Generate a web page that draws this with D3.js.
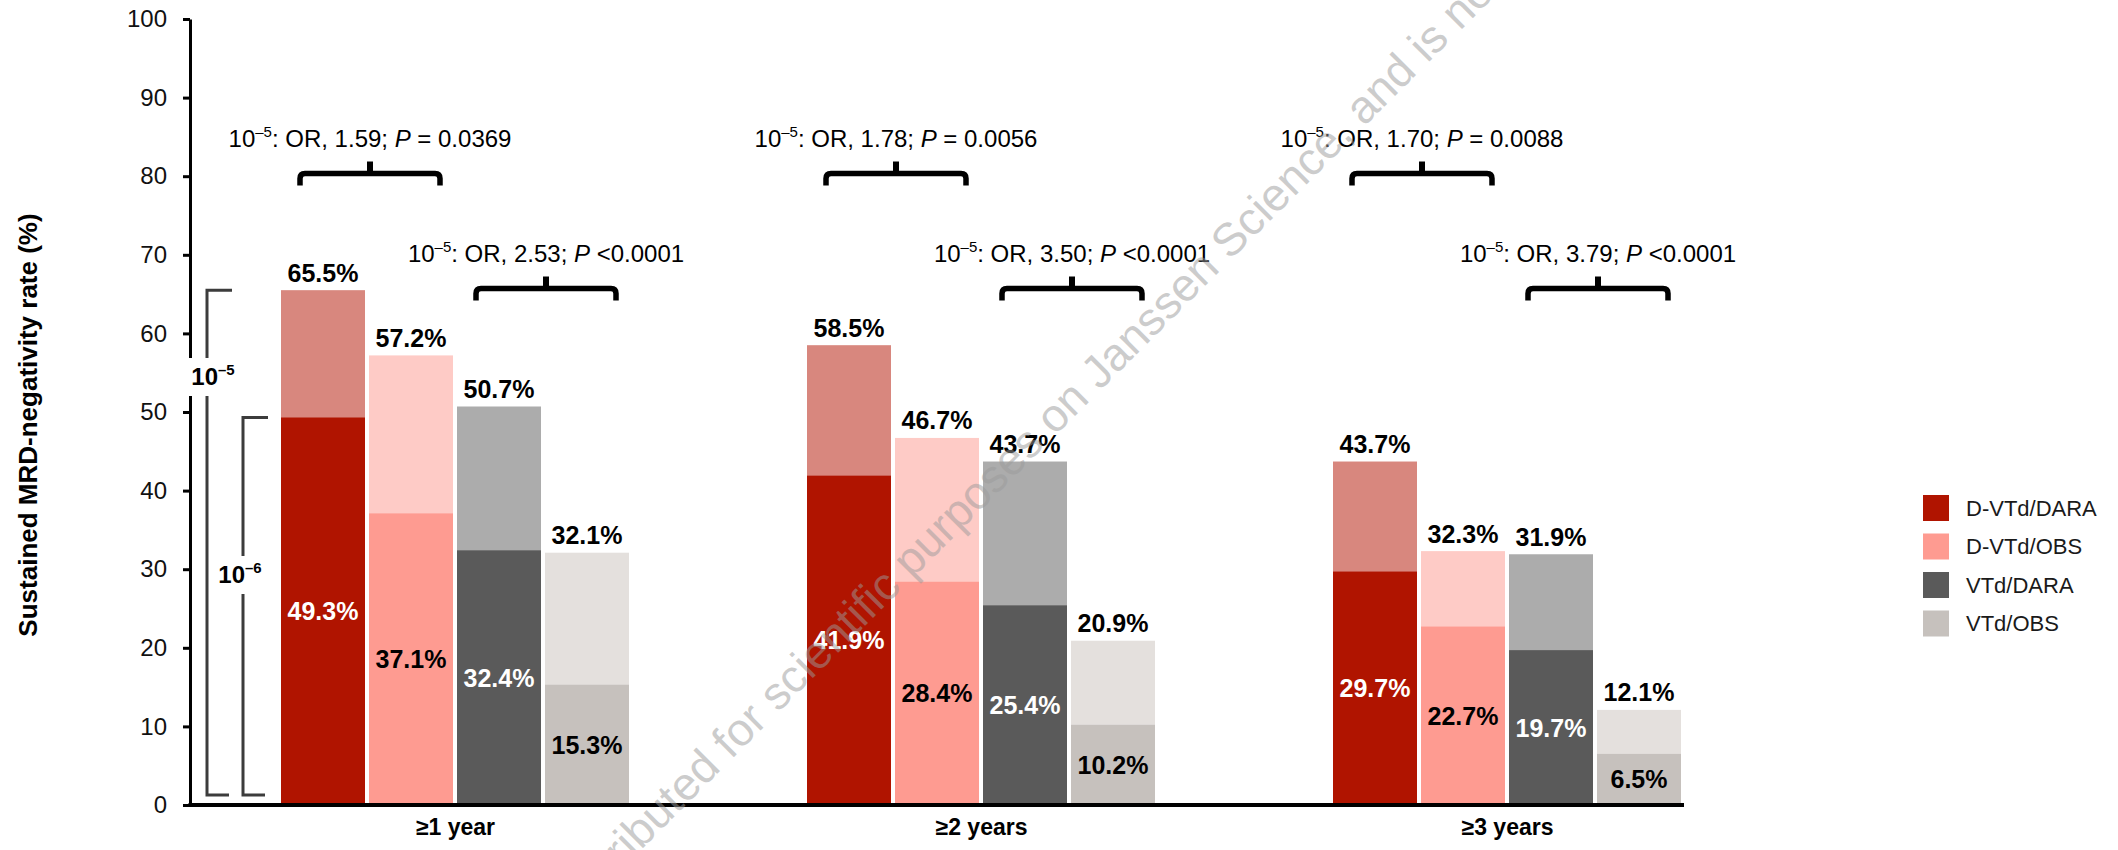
<!DOCTYPE html>
<html>
<head>
<meta charset="utf-8">
<script src="https://cdn.jsdelivr.net/npm/d3@7/dist/d3.min.js"></script>
<style>
  html, body { margin: 0; padding: 0; background: #ffffff; }
  svg { display: block; font-family: "Liberation Sans", Arial, Helvetica, sans-serif; }
</style>
</head>
<body>
<svg id="chart" width="2118" height="850"></svg>
<script>
// Time points on the x axis
const categories = ["\u22651 year", "\u22652 years", "\u22653 years"];
// Treatment / maintenance arms
const seriesNames = ["D-VTd/DARA", "D-VTd/OBS", "VTd/DARA", "VTd/OBS"];
// Sustained MRD-negativity rate (%) at the 10^-5 threshold, per time point, per arm
const rate1e5 = [
  [65.5, 57.2, 50.7, 32.1],
  [58.5, 46.7, 43.7, 20.9],
  [43.7, 32.3, 31.9, 12.1]
];
// Sustained MRD-negativity rate (%) at the 10^-6 threshold, per time point, per arm
const rate1e6 = [
  [49.3, 37.1, 32.4, 15.3],
  [41.9, 28.4, 25.4, 10.2],
  [29.7, 22.7, 19.7, 6.5]
];
// Y axis ticks
const yTicks = [0, 10, 20, 30, 40, 50, 60, 70, 80, 90, 100];
// Odds ratios and P values for the 10^-5 comparisons: [DARA vs OBS within D-VTd, within VTd]
const oddsRatios = [["1.59", "2.53"], ["1.78", "3.50"], ["1.70", "3.79"]];
const pValues = [["= 0.0369", "<0.0001"], ["= 0.0056", "<0.0001"], ["= 0.0088", "<0.0001"]];

const darkColor = {
  "D-VTd/DARA": "#b01400",
  "D-VTd/OBS": "#fe9b91",
  "VTd/DARA": "#5a5a5a",
  "VTd/OBS": "#c6c1bd"
};
const lightColor = {
  "D-VTd/DARA": "#d8877e",
  "D-VTd/OBS": "#fecbc6",
  "VTd/DARA": "#acacac",
  "VTd/OBS": "#e4e0dd"
};
const innerTextColor = {
  "D-VTd/DARA": "#ffffff",
  "D-VTd/OBS": "#000000",
  "VTd/DARA": "#ffffff",
  "VTd/OBS": "#000000"
};

const svg = d3.select("#chart");
svg.append("rect").attr("width", 2118).attr("height", 850).attr("fill", "#ffffff");

const y = d3.scaleLinear().domain([0, 100]).range([805, 19]);
const xGroup = d3.scalePoint().domain(categories).range([455, 1507]);
const xBar = d3.scaleBand().domain(seriesNames).range([-174, 174]).paddingInner(4 / 88);

const fmt = v => v.toFixed(1) + "%";

// Bars: the lighter rectangle is the 10^-5 rate, the darker one drawn over it is the 10^-6 rate
const groups = svg.append("g").selectAll("g.group")
  .data(categories)
  .join("g")
  .attr("class", "group")
  .attr("transform", d => `translate(${xGroup(d)},0)`);

groups.each(function(cat, gi) {
  const g = d3.select(this);
  const rows = seriesNames.map((s, si) => ({ s, v5: rate1e5[gi][si], v6: rate1e6[gi][si] }));

  g.selectAll("rect.outer").data(rows).join("rect")
    .attr("class", "outer")
    .attr("x", d => xBar(d.s))
    .attr("width", xBar.bandwidth())
    .attr("y", d => y(d.v5))
    .attr("height", d => y(0) - y(d.v5))
    .attr("fill", d => lightColor[d.s]);

  g.selectAll("rect.inner").data(rows).join("rect")
    .attr("class", "inner")
    .attr("x", d => xBar(d.s))
    .attr("width", xBar.bandwidth())
    .attr("y", d => y(d.v6))
    .attr("height", d => y(0) - y(d.v6))
    .attr("fill", d => darkColor[d.s]);

  g.selectAll("text.top").data(rows).join("text")
    .attr("class", "top")
    .attr("x", d => xBar(d.s) + xBar.bandwidth() / 2)
    .attr("y", d => y(d.v5) - 8.5)
    .attr("text-anchor", "middle")
    .attr("font-size", 25)
    .attr("font-weight", "bold")
    .attr("fill", "#000")
    .text(d => fmt(d.v5));

  g.selectAll("text.mid").data(rows).join("text")
    .attr("class", "mid")
    .attr("x", d => xBar(d.s) + xBar.bandwidth() / 2)
    .attr("y", d => y(d.v6 / 2))
    .attr("dy", "0.36em")
    .attr("text-anchor", "middle")
    .attr("font-size", 25)
    .attr("font-weight", "bold")
    .attr("fill", d => innerTextColor[d.s])
    .text(d => fmt(d.v6));
});

// Y axis
const yAxis = d3.axisLeft(y).tickValues(yTicks).tickSize(7).tickSizeOuter(0).tickPadding(16);
const yg = svg.append("g").attr("transform", "translate(190,0)").call(yAxis);
yg.select(".domain").attr("stroke", "#000").attr("stroke-width", 3);
yg.selectAll(".tick line").attr("stroke", "#000").attr("stroke-width", 3);
yg.selectAll(".tick text").attr("font-size", 24).attr("fill", "#111")
  .attr("font-family", "'Liberation Sans', Arial, sans-serif");

svg.append("text")
  .attr("transform", "translate(37,425) rotate(-90)")
  .attr("text-anchor", "middle")
  .attr("font-size", 26)
  .attr("font-weight", "bold")
  .attr("fill", "#000")
  .text("Sustained MRD-negativity rate (%)");

// X axis baseline and category labels
svg.append("line")
  .attr("x1", 188.5).attr("x2", 1684)
  .attr("y1", y(0)).attr("y2", y(0))
  .attr("stroke", "#000").attr("stroke-width", 4);

const xAxis = d3.axisBottom(xGroup).tickSize(0).tickPadding(14);
const xg = svg.append("g").attr("transform", `translate(0,${y(0)})`).call(xAxis);
xg.select(".domain").remove();
xg.selectAll(".tick text").attr("font-size", 23).attr("font-weight", "bold").attr("fill", "#000")
  .attr("font-family", "'Liberation Sans', Arial, sans-serif");

// Threshold brackets on the left (10^-5 and 10^-6 ranges of the first arm)
function thresholdBracket(xLine, topVal, labelY, exp, labelX) {
  const g = svg.append("g");
  const yTop = y(topVal), yBot = y(0) - 10;
  g.append("path")
    .attr("d", `M${xLine + 25},${yTop} H${xLine} V${yBot} H${xLine + 22}`)
    .attr("fill", "none").attr("stroke", "#3c3c3c").attr("stroke-width", 3);
  g.append("rect")
    .attr("x", labelX - 27).attr("y", labelY - 27)
    .attr("width", 54).attr("height", 38)
    .attr("fill", "#fff");
  const t = g.append("text")
    .attr("x", labelX).attr("y", labelY)
    .attr("text-anchor", "middle")
    .attr("font-size", 24).attr("font-weight", "bold").attr("fill", "#000");
  t.append("tspan").text("10");
  t.append("tspan").attr("font-size", 15).attr("dy", -10).text("\u2013" + exp);
}
thresholdBracket(207, rate1e5[0][0], 385, "5", 213);
thresholdBracket(243, rate1e6[0][0], 583, "6", 240);

// Curly braces with odds ratios between DARA and OBS arms
function brace(x1, x2, yb, label) {
  const xc = (x1 + x2) / 2;
  const g = svg.append("g");
  g.append("path")
    .attr("d", `M${x1},${yb + 12} V${yb + 5} Q${x1},${yb} ${x1 + 5},${yb} H${x2 - 5} Q${x2},${yb} ${x2},${yb + 5} V${yb + 12}`)
    .attr("fill", "none").attr("stroke", "#000").attr("stroke-width", 5.5);
  g.append("line")
    .attr("x1", xc).attr("x2", xc).attr("y1", yb).attr("y2", yb - 12)
    .attr("stroke", "#000").attr("stroke-width", 6);
  const t = g.append("text")
    .attr("x", xc).attr("y", yb - 26.5)
    .attr("text-anchor", "middle")
    .attr("font-size", 24).attr("fill", "#000");
  t.append("tspan").text("10");
  t.append("tspan").attr("font-size", 15).attr("dy", -10).text("\u20135");
  t.append("tspan").attr("dy", 10).text(`: OR, ${label.or}; `);
  t.append("tspan").attr("font-style", "italic").text("P");
  t.append("tspan").text(" " + label.p);
}

categories.forEach((cat, gi) => {
  const gx = xGroup(cat);
  const pairs = [[0, 1, 173.5], [2, 3, 288.5]];
  pairs.forEach(([a, b, yb], pi) => {
    const x1 = gx + xBar(seriesNames[a]) + 19;
    const x2 = gx + xBar(seriesNames[b]) + xBar.bandwidth() - 13;
    brace(x1, x2, yb, { or: oddsRatios[gi][pi], p: pValues[gi][pi] });
  });
});

// Legend
const legend = svg.append("g").attr("transform", "translate(1923,495)");
const li = legend.selectAll("g").data(seriesNames).join("g")
  .attr("transform", (d, i) => `translate(0,${i * 38.5})`);
li.append("rect").attr("width", 26).attr("height", 26).attr("fill", d => darkColor[d]);
li.append("text").attr("x", 43).attr("y", 13).attr("dy", "0.35em")
  .attr("font-size", 22).attr("fill", "#1a1a1a").text(d => d);

// Distribution notice watermark
svg.append("text")
  .attr("transform", "translate(572,919) rotate(-45)")
  .attr("font-size", 46)
  .attr("fill", "#9a9a9a")
  .attr("fill-opacity", 0.5)
  .text("distributed for scientific purposes on Janssen Science, and is not to be");
</script>
</body>
</html>
